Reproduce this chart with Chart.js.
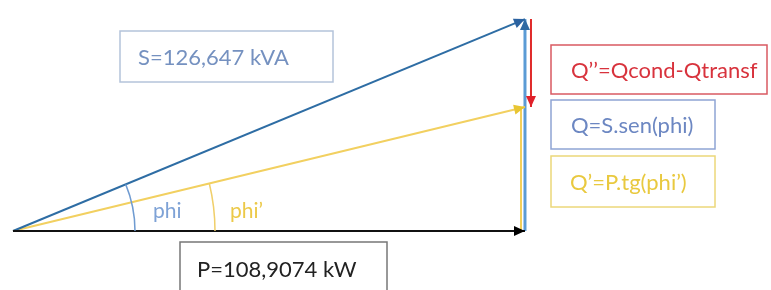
<!DOCTYPE html>
<html>
<head>
<meta charset="utf-8">
<script src="https://cdn.jsdelivr.net/npm/chart.js@4.4.1/dist/chart.umd.min.js"></script>
<style>
  body { margin: 0; background: #fff; }
  #chart { display: block; }
</style>
</head>
<body>
<canvas id="chart" width="771" height="290"></canvas>
<script>
// vector values (kW / kvar)
const vectorNames = ['P', 'S', "S'", 'Q', "Q'", "Q''"];
const vectorStartX = [0, 0, 0, 108.9074, 108.9074, 108.9074];
const vectorStartY = [0, 0, 0, 0, 0, 64.6];
const vectorEndX = [108.9074, 108.9074, 108.9074, 108.9074, 108.9074, 108.9074];
const vectorEndY = [0, 64.6, 37.8, 64.6, 37.8, 37.8];
const vectorColors = ['#111111', '#2e6da4', '#f2d060', '#5b9bd5', '#f2cf5b', '#e02a2a'];
const arrowColors = ['#000000', '#2b62a0', '#e8c532', '#2f6aa3', null, '#e0202a'];
const lineWidths = [2, 2, 2, 3, 2, 2];
const pixelShift = [0, 0, 0, 0, -4, 6];

const boxTexts = ['S=126,647 kVA', 'Q\u2019\u2019=Qcond-Qtransf', 'Q=S.sen(phi)', 'Q\u2019=P.tg(phi\u2019)', 'P=108,9074 kW'];
const angleTexts = ['phi', 'phi\u2019'];

const boxes = [
  { x: 120, y: 31, w: 213, h: 51, border: '#b4c3da', color: '#7591c0', tx: 138 },
  { x: 551, y: 45, w: 216, h: 49, border: '#d95a62', color: '#d8333d', tx: 571 },
  { x: 551, y: 100, w: 164, h: 49, border: '#8ea4d4', color: '#6c87c2', tx: 571 },
  { x: 551, y: 156, w: 164, h: 51, border: '#ecd77a', color: '#e9c93f', tx: 570 },
  { x: 180, y: 242, w: 207, h: 60, border: '#777777', color: '#222222', tx: 197 }
];

const datasets = vectorNames.map((name, i) => ({
  label: name,
  data: [{ x: vectorStartX[i], y: vectorStartY[i] }, { x: vectorEndX[i], y: vectorEndY[i] }],
  borderColor: vectorColors[i],
  borderWidth: lineWidths[i],
  pointRadius: 0,
  shift: pixelShift[i],
  arrow: arrowColors[i]
}));

const vectorPlugin = {
  id: 'vectors',
  beforeDatasetDraw(chart, args) {
    const ds = chart.data.datasets[args.index];
    chart.ctx.save();
    // side by side vertical vectors are nudged apart a few pixels
    if (ds.shift) chart.ctx.translate(ds.shift, 0);
  },
  afterDatasetDraw(chart) {
    chart.ctx.restore();
  },
  afterDatasetsDraw(chart) {
    const ctx = chart.ctx;
    const xs = chart.scales.x, ys = chart.scales.y;
    const ox = xs.getPixelForValue(0), oy = ys.getPixelForValue(0);

    // angle arcs
    const sAng = Math.atan2(ys.getPixelForValue(vectorEndY[1]) - oy, xs.getPixelForValue(vectorEndX[1]) - ox);
    const s2Ang = Math.atan2(ys.getPixelForValue(vectorEndY[2]) - oy, xs.getPixelForValue(vectorEndX[2]) - ox);
    ctx.save();
    ctx.lineWidth = 1.5;
    ctx.strokeStyle = '#6f9bd1';
    ctx.beginPath(); ctx.arc(ox, oy, 122, sAng, 0); ctx.stroke();
    ctx.strokeStyle = '#f0cf6a';
    ctx.beginPath(); ctx.arc(ox, oy, 202, s2Ang, 0); ctx.stroke();
    ctx.restore();

    // arrow heads
    chart.data.datasets.forEach((ds, i) => {
      if (!ds.arrow) return;
      const pts = chart.getDatasetMeta(i).data;
      const a = pts[0], b = pts[1];
      const ang = Math.atan2(b.y - a.y, b.x - a.x);
      const len = 11, half = 5;
      ctx.save();
      ctx.fillStyle = ds.arrow;
      ctx.translate(b.x + (ds.shift || 0), b.y);
      ctx.rotate(ang);
      ctx.beginPath();
      ctx.moveTo(0, 0);
      ctx.lineTo(-len, -half);
      ctx.lineTo(-len, half);
      ctx.closePath();
      ctx.fill();
      ctx.restore();
    });

    // labelled boxes
    ctx.save();
    ctx.font = '22px Lato';
    ctx.textBaseline = 'middle';
    boxes.forEach((b, i) => {
      ctx.fillStyle = '#ffffff';
      ctx.fillRect(b.x, b.y, b.w, b.h);
      ctx.lineWidth = 1.5;
      ctx.strokeStyle = b.border;
      ctx.strokeRect(b.x, b.y, b.w, b.h);
      ctx.fillStyle = b.color;
      const cy = i === 4 ? 270 : b.y + b.h / 2 + 1;
      ctx.fillText(boxTexts[i], b.tx, cy);
    });
    ctx.font = '21px Lato';
    ctx.fillStyle = '#7ea2d6';
    ctx.fillText(angleTexts[0], 153, 211);
    ctx.fillStyle = '#ecc948';
    ctx.fillText(angleTexts[1], 230, 211);
    ctx.restore();
  }
};

new Chart(document.getElementById('chart'), {
  type: 'line',
  data: { datasets },
  options: {
    responsive: false,
    animation: false,
    layout: { padding: 0 },
    plugins: { legend: { display: false }, tooltip: { enabled: false } },
    scales: {
      x: { type: 'linear', display: false, min: -2.765, max: 161.24 },
      y: { type: 'linear', display: false, min: -17.99, max: 70.43 }
    }
  },
  plugins: [vectorPlugin]
});
</script>
</body>
</html>
